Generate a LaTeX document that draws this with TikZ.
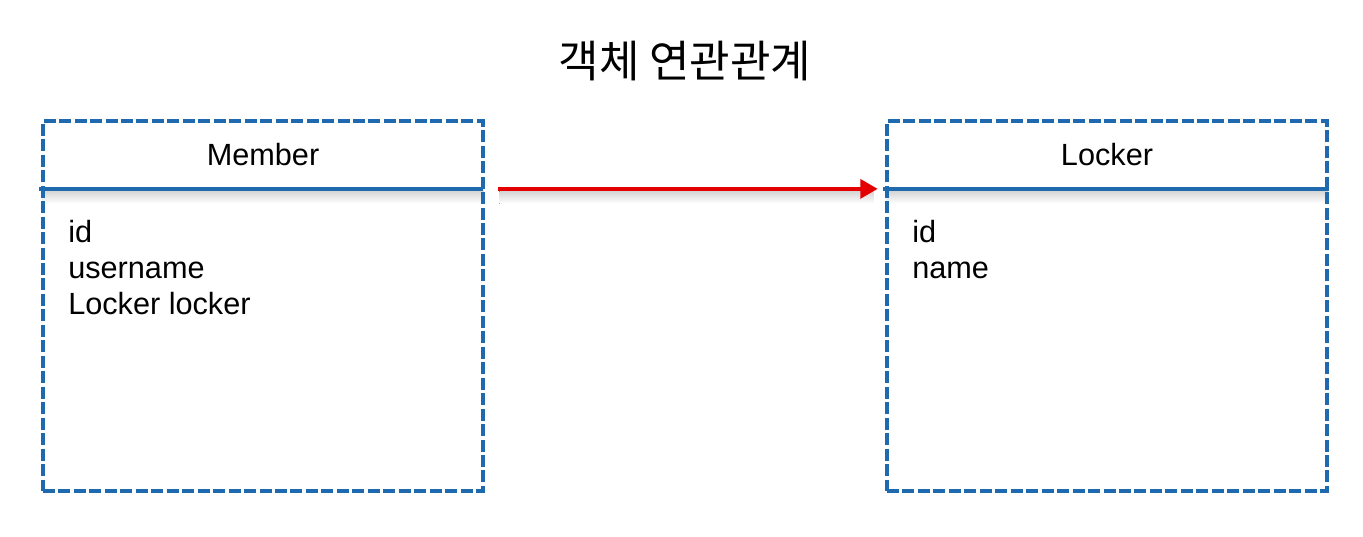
\documentclass[tikz,border=0pt]{standalone}
\usepackage{fontspec}
\setmainfont{Liberation Sans}
\newfontfamily\kofont{Noto Sans CJK KR}
\usepackage{tikz}
\usetikzlibrary{arrows.meta, positioning, backgrounds}
\definecolor{boxblue}{RGB}{31,105,174}
\definecolor{linkred}{RGB}{228,0,0}

\begin{document}
\begin{tikzpicture}[x=0.75pt, y=-0.75pt,
        entity/.style={
            rectangle, draw=boxblue, line width=2.5pt,
            dash pattern=on 9pt off 2.6pt,
            minimum width=330pt, minimum height=277.5pt
        },
        header/.style={
            rectangle, inner sep=0pt,
            font=\fontsize{23}{27}\selectfont,
            minimum width=330pt, minimum height=51.75pt
        },
        fields/.style={
            rectangle, inner sep=0pt, anchor=north west,
            font=\fontsize{23}{27}\selectfont, align=left
        },
        sep/.style={draw=boxblue, line width=2.5pt},
        shade/.style={top color=black!17, bottom color=white, draw=none},
        rel/.style={-{Triangle[length=13pt, width=14pt]}, draw=linkred, line width=3pt}
    ]
        \useasboundingbox (0,0) rectangle (1363,536);

        \node[font=\kofont\fontsize{33}{38}\selectfont] (title) at (685,61) {객체 연관관계};

        \node[entity] (m) at (263,306) {};
        \node[header, anchor=north] (mh) at (m.north) {Member};
        \node[fields] (mf) at (68,220) {id\\username\\Locker locker};

        \node[entity] (l) at (1107,306) {};
        \node[header, anchor=north] (lh) at (l.north) {Locker};
        \node[fields] (lf) at (912,220) {id\\name};

        \begin{scope}[on background layer]
            \fill[shade] ([yshift=-1.2pt]mh.south west) rectangle ([yshift=-11pt]mh.south east);
            \fill[shade] ([yshift=-1.2pt]lh.south west) rectangle ([yshift=-11pt]lh.south east);
            \fill[shade] ([xshift=12pt, yshift=-1.6pt]mh.south east) rectangle ([xshift=-10pt, yshift=-11pt]lh.south west);
        \end{scope}

        \draw[sep] ([xshift=-2.5pt]mh.south west) -- (mh.south east);
        \draw[sep] ([xshift=-2.5pt]lh.south west) -- ([xshift=1pt]lh.south east);

        \draw[rel] ([xshift=11.25pt]mh.south east) -- ([xshift=-6.75pt]lh.south west);
    \end{tikzpicture}
\end{document}
